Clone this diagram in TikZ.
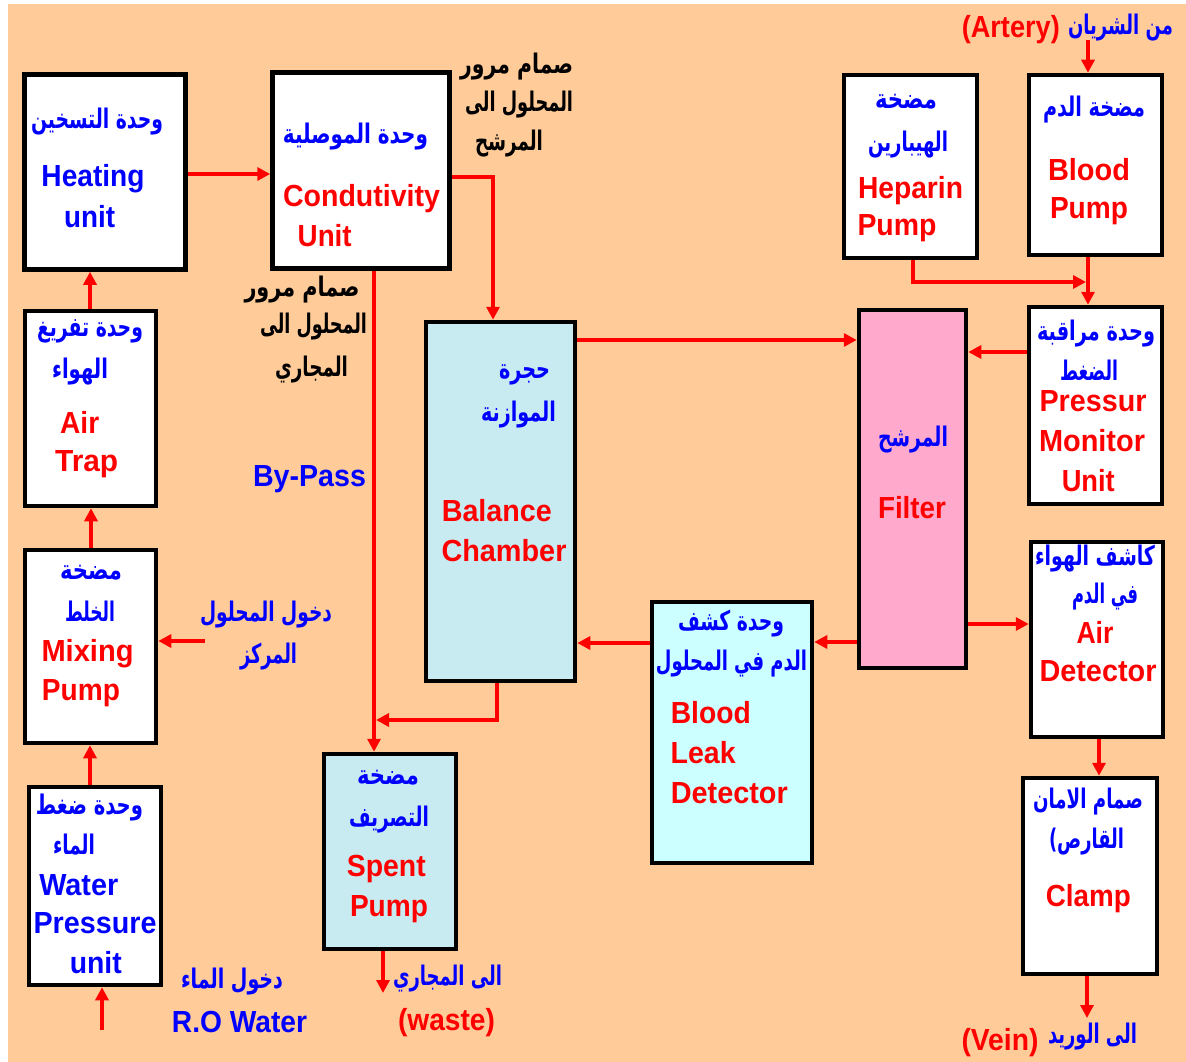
\documentclass[tikz,border=0pt]{standalone}
\usepackage{fontspec}
\usepackage{graphicx}
\usetikzlibrary{arrows.meta}
\TeXXeTstate=1
\newfontfamily\latinfont{Liberation Sans}
\newfontfamily\arabicfont[Script=Arabic]{DejaVu Sans}
\definecolor{peach}{HTML}{FFCC99}
\definecolor{chamberblue}{HTML}{C8EBF2}
\definecolor{leakcyan}{HTML}{CCFFFF}
\definecolor{filterpink}{HTML}{FFAACC}
\newcommand\fitto[2]{\resizebox{#1pt}{\height}{#2}}
\newcommand\RTL[1]{\beginR #1\endR}
\pgfdeclarelayer{back}
\pgfdeclarelayer{wires}
\pgfsetlayers{back,wires,main}
\tikzset{
  unitbox/.style={draw=black, line width=4.5pt, fill=white, inner sep=0pt},
  flow/.style={draw=red, line width=4pt, -{Triangle[length=13pt,width=13pt]}},
  lt/.style={inner sep=0pt, anchor=base, font=\latinfont\bfseries\fontsize{30.5}{30.5}\selectfont},
  en/.style={lt, text=red},
  enb/.style={lt, text=blue},
  arb/.style={inner sep=0pt, font=\arabicfont\bfseries\fontsize{27}{27}\selectfont, text=blue},
  ark/.style={arb, text=black},
}
\begin{document}
\begin{tikzpicture}[x=1pt,y=-1pt]
\useasboundingbox (0,0) rectangle (1186,1062);
\begin{pgfonlayer}{back}
  \fill[white] (0,0) rectangle (1186,1062);
  \fill[peach] (8,4) rectangle (1186,1062);
\end{pgfonlayer}

% unit boxes
\node[unitbox, minimum width=161pt, minimum height=195pt] (heat) at (105,172) {};
\node[unitbox, minimum width=177pt, minimum height=196pt] (cond) at (361,170.5) {};
\node[unitbox, minimum width=133pt, minimum height=183pt] (hep) at (910.5,166.5) {};
\node[unitbox, minimum width=133pt, minimum height=180pt] (bpump) at (1095.5,165) {};
\node[unitbox, minimum width=131pt, minimum height=195pt] (airtrap) at (90.5,408.5) {};
\node[unitbox, minimum width=131pt, minimum height=193pt] (mix) at (90.5,646.5) {};
\node[unitbox, minimum width=132pt, minimum height=198pt] (water) at (95,886) {};
\node[unitbox, fill=chamberblue, minimum width=132pt, minimum height=195pt] (spent) at (390,851.5) {};
\node[unitbox, fill=chamberblue, minimum width=149pt, minimum height=359pt] (balance) at (500.5,501.5) {};
\node[unitbox, fill=filterpink, minimum width=107pt, minimum height=358pt] (filter) at (912.5,489) {};
\node[unitbox, fill=leakcyan, minimum width=160pt, minimum height=261pt] (leak) at (732,732.5) {};
\node[unitbox, minimum width=133pt, minimum height=197pt] (pmon) at (1095.5,405.5) {};
\node[unitbox, minimum width=132pt, minimum height=195pt] (airdet) at (1097,639.5) {};
\node[unitbox, minimum width=134pt, minimum height=196pt] (clamp) at (1090,876) {};

% free ends of the lines
\coordinate (artery) at (1088,40);
\coordinate (vein) at (1087,1018);
\coordinate (rowater) at (102,1030);
\coordinate (waste) at (383,993);
\coordinate (conc) at (205,641);
\coordinate (hepjoin) at (1086,282);
\coordinate (bpjoin) at (376,720);

% flow lines
\begin{pgfonlayer}{wires}
  \draw[flow] (heat.east |- 0,174) -- (cond.west |- 0,174);
  \draw[flow] (cond.east |- 0,177) -| (balance.north -| 493,0);
  \draw[flow] (cond.south -| 374,0) -- (spent.north -| 374,0);
  \draw[flow] (balance.south -| 497,0) |- (bpjoin);
  \draw[flow] (balance.east |- 0,340) -- (filter.west |- 0,340);
  \draw[flow] (pmon.west |- 0,352) -- (filter.east |- 0,352);
  \draw[flow] (filter.west |- 0,642) -- (leak.east |- 0,642);
  \draw[flow] (leak.west |- 0,643) -- (balance.east |- 0,643);
  \draw[flow] (filter.east |- 0,624) -- (airdet.west |- 0,624);
  \draw[flow] (airdet.south -| 1099,0) -- (clamp.north -| 1099,0);
  \draw[flow] (clamp.south -| 1087,0) -- (vein);
  \draw[flow] (artery) -- (bpump.north -| 1088,0);
  \draw[flow] (bpump.south -| 1088,0) -- (pmon.north -| 1088,0);
  \draw[flow] (hep.south -| 913,0) |- (hepjoin);
  \draw[flow] (airtrap.north -| 90,0) -- (heat.south -| 90,0);
  \draw[flow] (mix.north -| 91,0) -- (airtrap.south -| 91,0);
  \draw[flow] (water.north -| 90,0) -- (mix.south -| 90,0);
  \draw[flow] (rowater) -- (water.south -| 102,0);
  \draw[flow] (conc) -- (mix.east |- 0,641);
  \draw[flow] (spent.south -| 383,0) -- (waste);
\end{pgfonlayer}

% heating unit
\node[arb] (heat-ar) at (97,121.7) {\fitto{132}{\RTL{وحدة التسخين}}};
\node[enb] (heat-l1) at (93,186.7) {\fitto{103}{Heating}};
\node[enb] (heat-l2) at (89.7,227) {\fitto{51}{unit}};
% conductivity unit
\node[arb] (cond-ar) at (355.5,136.7) {\fitto{145}{\RTL{وحدة الموصلية}}};
\node[en] (cond-l1) at (361.5,206.7) {\fitto{157}{Condutivity}};
\node[en] (cond-l2) at (324.7,246.7) {\fitto{54}{Unit}};
% heparin pump
\node[arb] (hep-ar1) at (906,101.7) {\fitto{62}{\RTL{مضخة}}};
\node[arb] (hep-ar2) at (908,145) {\fitto{80}{\RTL{الهيبارين}}};
\node[en] (hep-l1) at (910.5,198.3) {\fitto{105}{Heparin}};
\node[en] (hep-l2) at (897,235) {\fitto{79}{Pump}};
% blood pump
\node[arb] (bp-ar) at (1094,110) {\fitto{102}{\RTL{مضخة الدم}}};
\node[en] (bp-l1) at (1089,180) {\fitto{82}{Blood}};
\node[en] (bp-l2) at (1089,218.3) {\fitto{78}{Pump}};
% air trap
\node[arb] (at-ar1) at (90,331.7) {\fitto{106}{\RTL{وحدة تفريغ}}};
\node[arb] (at-ar2) at (80,371.7) {\fitto{56}{\RTL{الهواء}}};
\node[en] (at-l1) at (79.7,433.3) {\fitto{39}{Air}};
\node[en] (at-l2) at (86.7,471.7) {\fitto{63}{Trap}};
% mixing pump
\node[arb] (mix-ar1) at (91,573) {\fitto{62}{\RTL{مضخة}}};
\node[arb] (mix-ar2) at (90,611.7) {\fitto{50}{\RTL{الخلط}}};
\node[en] (mix-l1) at (87.5,661) {\fitto{92}{Mixing}};
\node[en] (mix-l2) at (81,700) {\fitto{78}{Pump}};
% water pressure unit
\node[arb] (wp-ar1) at (89.5,808) {\fitto{107}{\RTL{وحدة ضغط}}};
\node[arb] (wp-ar2) at (74,845) {\fitto{42}{\RTL{الماء}}};
\node[enb] (wp-l1) at (78.8,895) {\fitto{79}{Water}};
\node[enb] (wp-l2) at (95,933.3) {\fitto{123}{Pressure}};
\node[enb] (wp-l3) at (95.8,973.3) {\fitto{52}{unit}};
% spent pump
\node[arb] (sp-ar1) at (388,778) {\fitto{62}{\RTL{مضخة}}};
\node[arb] (sp-ar2) at (389,820) {\fitto{80}{\RTL{التصريف}}};
\node[en] (sp-l1) at (386.3,876.7) {\fitto{79}{Spent}};
\node[en] (sp-l2) at (389,916.7) {\fitto{78}{Pump}};
% balance chamber
\node[arb] (bc-ar1) at (524.5,375) {\fitto{51}{\RTL{حجرة}}};
\node[arb] (bc-ar2) at (518.5,415) {\fitto{75}{\RTL{الموازنة}}};
\node[en] (bc-l1) at (496.8,521.7) {\fitto{110}{Balance}};
\node[en] (bc-l2) at (504,561.7) {\fitto{125}{Chamber}};
% filter
\node[arb] (fi-ar) at (913,440) {\fitto{70}{\RTL{المرشح}}};
\node[en] (fi-l1) at (912,518.3) {\fitto{68}{Filter}};
% blood leak detector
\node[arb] (bl-ar1) at (731,623.3) {\fitto{106}{\RTL{وحدة كشف}}};
\node[arb] (bl-ar2) at (731.4,663.3) {\fitto{151}{\RTL{الدم في  المحلول}}};
\node[en] (bl-l1) at (710.8,723.3) {\fitto{80}{Blood}};
\node[en] (bl-l2) at (703.2,763.3) {\fitto{65}{Leak}};
\node[en] (bl-l3) at (729.3,803.3) {\fitto{117}{Detector}};
% pressure monitor unit
\node[arb] (pm-ar1) at (1096,333.3) {\fitto{118}{\RTL{وحدة مراقبة}}};
\node[arb] (pm-ar2) at (1089,370) {\fitto{58}{\RTL{الضغط}}};
\node[en] (pm-l1) at (1093,411.7) {\fitto{107}{Pressur}};
\node[en] (pm-l2) at (1092,451.7) {\fitto{106}{Monitor}};
\node[en] (pm-l3) at (1088.3,491.7) {\fitto{53}{Unit}};
% air detector
\node[arb] (ad-ar1) at (1095,558.3) {\fitto{120}{\RTL{كاشف الهواء}}};
\node[arb] (ad-ar2) at (1105,596.7) {\fitto{66}{\RTL{في الدم}}};
\node[en] (ad-l1) at (1095,643.3) {\fitto{37}{Air}};
\node[en] (ad-l2) at (1098,681.7) {\fitto{117}{Detector}};
% clamp (the RTL font mirrors the bracket, so it is typed as a closing one)
\node[arb] (cl-ar1) at (1088,801.7) {\fitto{110}{\RTL{صمام الامان}}};
\node[arb] (cl-ar2) at (1086.5,841.7) {\fitto{75}{)\RTL{القارص}}};
\node[en] (cl-l1) at (1088.3,906.7) {\fitto{85}{Clamp}};

% valve notes
\node[ark] (vf-1) at (516.7,66.7) {\fitto{113}{\RTL{صمام  مرور}}};
\node[ark] (vf-2) at (519,105) {\fitto{108}{\RTL{المحلول الى}}};
\node[ark] (vf-3) at (509,143.3) {\fitto{68}{\RTL{المرشح}}};
\node[ark] (vd-1) at (302,290) {\fitto{115}{\RTL{صمام  مرور}}};
\node[ark] (vd-2) at (313.5,326.7) {\fitto{107}{\RTL{المحلول الى}}};
\node[ark] (vd-3) at (311.5,370) {\fitto{73}{\RTL{المجاري}}};
\node[enb] (bypass) at (309.5,486.7) {\fitto{113}{By-Pass}};

% inlets and outlets
\node[arb] (conc-ar1) at (266,615) {\fitto{132}{\RTL{دخول المحلول}}};
\node[arb] (conc-ar2) at (268.5,656.7) {\fitto{57}{\RTL{المركز}}};
\node[arb] (ro-ar) at (232,981.7) {\fitto{102}{\RTL{دخول الماء}}};
\node[enb] (ro-l) at (239.5,1032.7) {\fitto{135}{R.O Water}};
\node[arb] (ws-ar) at (447.5,979) {\fitto{109}{\RTL{الى المجاري}}};
\node[en] (ws-l) at (446.5,1030) {\fitto{97}{(waste)}};
\node[en] (art-l) at (1010.8,38) {\fitto{98}{(Artery)}};
\node[arb] (art-ar) at (1120.5,28) {\fitto{105}{\RTL{من الشريان}}};
\node[en] (vein-l) at (1000,1050) {\fitto{77}{(Vein)}};
\node[arb] (vein-ar) at (1092.5,1036.7) {\fitto{89}{\RTL{الى الوريد}}};
\end{tikzpicture}
\end{document}
